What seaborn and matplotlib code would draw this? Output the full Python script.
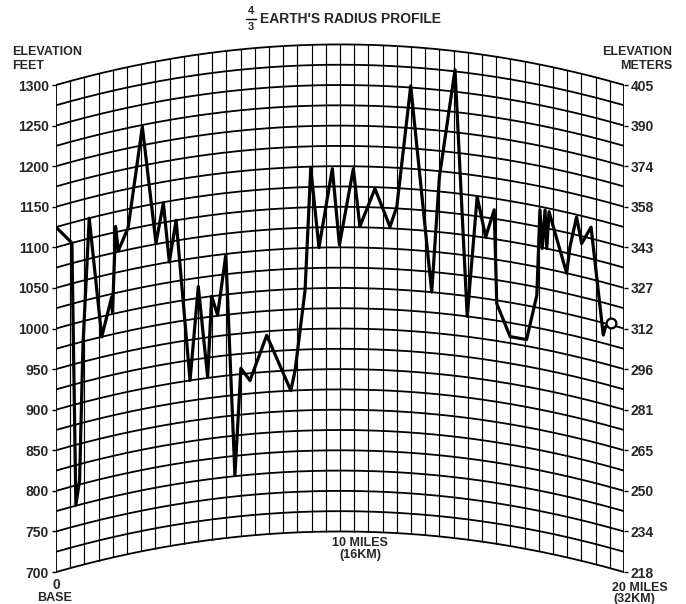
import numpy as np
import pandas as pd
import matplotlib
matplotlib.use("Agg")
import matplotlib.pyplot as plt
import seaborn as sns

# ---- data (elevation in feet, relative to the curved 4/3-earth grid) ----
miles = [0.00, 0.56, 0.70, 0.83, 0.95, 1.17, 1.61, 1.96, 1.99, 2.10, 2.19, 2.54,
         3.04, 3.52, 3.78, 3.99, 4.23, 4.72, 5.01, 5.34, 5.48, 5.69, 5.98, 6.30,
         6.51, 6.83, 7.42, 8.27, 8.42, 8.77, 8.97, 9.26, 9.73, 9.98, 10.47, 10.70,
         11.23, 11.76, 12.00, 12.49, 13.23, 13.50, 14.05, 14.48, 14.83, 15.13,
         15.43, 15.52, 15.99, 16.57, 16.93, 17.04, 17.12, 17.22, 17.28, 17.36,
         17.98, 18.10, 18.33, 18.51, 18.84, 19.27, 19.35, 19.53]
elev_ft = [1125, 1100, 776, 805, 971, 1125, 975, 1021, 1002, 1107, 1076, 1102,
           1223, 1076, 1124, 1050, 1100, 900, 1014, 901, 1000, 976, 1049, 776,
           907, 891, 945, 875, 900, 998, 1148, 1050, 1147, 1053, 1147, 1076,
           1123, 1077, 1102, 1252, 1000, 1143, 1277, 975, 1124, 1076,
           1111, 996, 958, 958, 1015, 1121, 1074, 1122, 1075, 1121,
           1050, 1084, 1122, 1091, 1114, 985, 996, 1002]

feet_ticks = [700, 750, 800, 850, 900, 950, 1000, 1050, 1100, 1150, 1200, 1250, 1300]
meter_labels = ["218", "234", "250", "265", "281", "296", "312", "327", "343",
                "358", "374", "390", "405"]

PATH_MILES = 20.0
K_FACTOR = 4.0 / 3.0


def bulge(d):
    d = np.asarray(d, dtype=float)
    return d * (PATH_MILES - d) / (1.5 * K_FACTOR)


sns.set_style("white")
plt.rcParams['font.family'] = ['Liberation Sans', 'DejaVu Sans']
plt.rcParams['font.weight'] = 'bold'

W, H = 686, 604
fig = plt.figure(figsize=(W / 100, H / 100), dpi=100)
ax = fig.add_axes([56 / W, 1 - 588.3 / H, 568 / W, (588.3 - 28.2) / H])
ax.set_xlim(0, 20)
ax.set_ylim(680, 1370)
for s in ax.spines.values():
    s.set_visible(False)

# curved horizontal grid lines every 25 ft
xx = np.linspace(0, 20, 300)
for e in np.arange(700, 1301, 25):
    ax.plot(xx, e + bulge(xx), color="black", lw=1.3, zorder=1)

# vertical grid lines every half mile
for xv in np.arange(0, 20.01, 0.5):
    b = float(bulge(xv))
    lw = 1.3 if xv in (0, 20) else 0.85
    ax.plot([xv, xv], [700 + b, 1300 + b], color="black", lw=lw, zorder=1)

# profile
df = pd.DataFrame({"miles": miles, "elev": elev_ft})
df["plot_y"] = df["elev"] + bulge(df["miles"])
sns.lineplot(data=df, x="miles", y="plot_y", sort=False, estimator=None,
             color="black", lw=2.3, ax=ax, zorder=3)
ax.plot(df["miles"].iloc[-1], df["plot_y"].iloc[-1], "o", mfc="white",
        mec="black", ms=7, mew=1.6, zorder=4)
ax.set_xlabel("")
ax.set_ylabel("")

# axes ticks
ax.set_xticks([])
ax.set_yticks(feet_ticks)
ax.set_yticklabels([str(t) for t in feet_ticks], fontsize=10, fontweight="bold")
ax.tick_params(axis="y", length=3, width=1, pad=2, color="black")
ax2 = ax.twinx()
ax2.set_ylim(ax.get_ylim())
for s in ax2.spines.values():
    s.set_visible(False)
ax2.set_yticks(feet_ticks)
ax2.set_yticklabels(meter_labels, fontsize=10, fontweight="bold")
ax2.tick_params(axis="y", length=3, width=1, pad=2, color="black")


def ftext(x, y, s, **kw):
    fig.text(x / W, 1 - y / H, s, **kw)


# title
ftext(350, 19, "EARTH'S RADIUS PROFILE", ha="center", va="center",
      fontsize=10, fontweight="bold")
ftext(251, 11, "4", ha="center", va="center", fontsize=8, fontweight="bold")
ftext(251, 27, "3", ha="center", va="center", fontsize=8, fontweight="bold")
fig.add_artist(plt.Line2D([246 / W, 256 / W], [1 - 19 / H, 1 - 19 / H],
                          color="black", lw=1))

ftext(12, 52, "ELEVATION", ha="left", va="center", fontsize=9, fontweight="bold")
ftext(12, 66, "FEET", ha="left", va="center", fontsize=9, fontweight="bold")
ftext(672, 52, "ELEVATION", ha="right", va="center", fontsize=9, fontweight="bold")
ftext(672, 66, "METERS", ha="right", va="center", fontsize=9, fontweight="bold")

ftext(56, 585, "0", ha="center", va="center", fontsize=10, fontweight="bold")
ftext(55, 598, "BASE", ha="center", va="center", fontsize=9, fontweight="bold")
ftext(360, 543, "10 MILES", ha="center", va="center", fontsize=9, fontweight="bold")
ftext(360, 555, "(16KM)", ha="center", va="center", fontsize=9, fontweight="bold")
ftext(612, 588, "20 MILES", ha="left", va="center", fontsize=9, fontweight="bold")
ftext(613, 599, "(32KM)", ha="left", va="center", fontsize=9, fontweight="bold")

fig.savefig("out.png", dpi=100, facecolor="white")
